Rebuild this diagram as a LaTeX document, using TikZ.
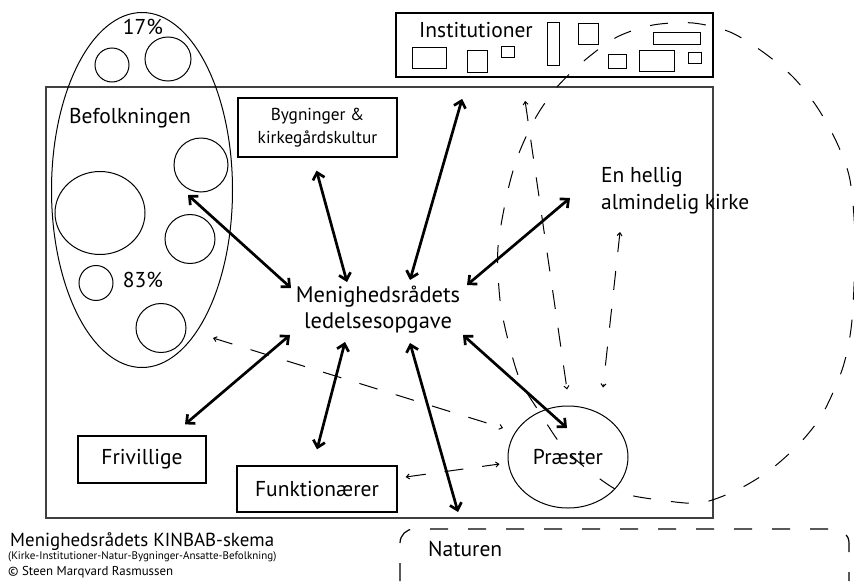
\documentclass[tikz,border=0pt]{standalone}
\usepackage{fontspec}
\setmainfont{PT Sans}
\usetikzlibrary{arrows.meta,shapes.geometric,calc,positioning}

\tikzset{
  biarrow/.style={line width=2.7pt,
    {Straight Barb[length=6.5pt,width=12pt]}-{Straight Barb[length=6.5pt,width=12pt]}},
  dasharrow/.style={line width=1pt, dash pattern=on 19pt off 19pt,
    {Straight Barb[length=3pt,width=5pt]}-{Straight Barb[length=3pt,width=5pt]}},
  circ/.style={draw, ellipse, line width=1pt, inner sep=0pt},
  box/.style={draw, line width=1.3pt, inner sep=0pt, align=center},
  txt/.style={inner sep=0pt, font=\fontsize{21.5}{25}\selectfont},
}

\begin{document}
\begin{tikzpicture}[x=1pt,y=-1pt]
        \useasboundingbox (0,0) rectangle (854,581);
        % ramme
        \draw[line width=1.4pt, draw=black!75] (46,87) rectangle (713,518);
        % befolkningen
        \node[circ, minimum width=181pt, minimum height=355pt] (befolk) at (142,190) {};
        \foreach \n/\x/\y/\w/\h in {c1/112/65/34/34, c2/168/59/46/44, c3/201/165/54/54,
          c4/100/213/90/83, c5/190/239/50/49, c6/96/283/34/35, c7/161/328/50/49} {
          \node[circ, minimum width=\w pt, minimum height=\h pt] (\n) at (\x,\y) {};
        }
        \node[txt] (pct17) at (143,27) {17\%};
        \node[txt] (beftxt) at (130,118) {Befolkningen};
        \node[txt] (pct83) at (143,280) {83\%};
        % institutioner
        \node[draw, line width=1.8pt, minimum width=317pt, minimum height=64pt, inner sep=0pt] (inst) at (554.5,45) {};
        \node[txt] (insttxt) at (476,30) {Institutioner};
        \foreach \xa/\ya/\xb/\yb in {412/47/446/68, 467/50/487/72, 501/46/514/57,
          547/22/559/65, 578/23/598/44, 608/54/626/68, 639/50/674/71,
          653/32/700/44, 688/52/701/63} {
          \draw[line width=1pt] (\xa,\ya) rectangle (\xb,\yb);
        }
        % kirken rundt om praesterne
        \draw[line width=1pt, dash pattern=on 18pt off 20pt] plot[smooth cycle, tension=0.5] coordinates {
          (508,190) (519,153) (536,117) (557,87) (585,60) (617,37) (653,25)
          (693,23) (730,32) (763,52) (793,77) (817,107) (837,143) (850,180)
          (855,240) (852,320) (843,367) (823,413) (800,443) (770,470) (737,490)
          (700,503) (660,500) (623,493) (592,473) (563,447) (540,413) (520,380)
          (508,340) (500,300) (498,247)};
        % naturen
        \draw[line width=1.2pt, dash pattern=on 18pt off 20pt, rounded corners=14pt]
          (400,581) -- (400,529) -- (849,529) -- (849,581);
        \node[txt, anchor=west] (natur) at (428,549) {Naturen};
        % noder
        \node[box, minimum width=159pt, minimum height=59pt, font=\fontsize{17.3}{23}\selectfont] (byg) at (317.5,127.5) {Bygninger \&\\kirkegårdskultur};
        \node[txt, align=center, font=\fontsize{22.5}{26}\selectfont] (menig) at (378,310) {Menighedsrådets\\ledelsesopgave};
        \node[txt, anchor=west, align=left, font=\fontsize{21.5}{27}\selectfont] (hellig) at (601,191) {En hellig\\almindelig kirke};
        \node[circ, minimum width=120pt, minimum height=102pt, font=\fontsize{21.5}{25}\selectfont] (praester) at (568,457) {Præster};
        \node[box, minimum width=128pt, minimum height=47pt, font=\fontsize{21.5}{25}\selectfont] (friv) at (142,459.5) {Frivillige};
        \node[box, minimum width=160pt, minimum height=46pt, font=\fontsize{21.5}{25}\selectfont] (funk) at (317,489) {Funktionærer};
        % pile fra menighedsraadet
        \draw[biarrow] ($(menig)+(-87,-22)$) -- ($(c3)+(-13,30)$);
        \draw[biarrow] ($(menig)+(-31,-28)$) -- ($(byg.south)+(-1,13)$);
        \draw[biarrow] ($(menig)+(32,-30)$) -- ($(inst.south west)+(67,21)$);
        \draw[biarrow] ($(menig)+(89,-25)$) -- ($(hellig.west)+(-31,7)$);
        \draw[biarrow] ($(menig)+(85,25)$) -- ($(praester)+(-1,-29)$);
        \draw[biarrow] ($(menig)+(32,33)$) -- ($(natur.west)+(30,-37)$);
        \draw[biarrow] ($(menig)+(-33,32)$) -- ($(funk.north)+(0,-16)$);
        \draw[biarrow] ($(menig)+(-88,25)$) -- ($(friv.north)+(43,-11)$);
        % stiplede pile til praesterne
        \draw[dasharrow] ($(befolk)+(71,148)$) -- ($(praester)+(-65,-29)$);
        \draw[dasharrow] ($(funk.east)+(8,-12)$) -- ($(praester.west)+(-8,7)$);
        \draw[dasharrow] ($(inst.south west)+(130,23)$) -- ($(praester.north)+(-1,-16)$);
        \draw[dasharrow] ($(hellig.west)+(19,41)$) -- ($(praester.north)+(35,-18)$);
        % tekst nederst
        \node[anchor=west, inner sep=0pt, font=\fontsize{18.9}{20}\selectfont] (titel) at (10,542) {Menighedsrådets KINBAB-skema};
        \node[anchor=west, inner sep=0pt, font=\fontsize{11}{12}\selectfont] (undertitel) at (8,557) {(Kirke-Institutioner-Natur-Bygninger-Ansatte-Befolkning)};
        \node[anchor=west, inner sep=0pt, font=\fontsize{12.9}{14}\selectfont] (ophav) at (8,572) {© Steen Marqvard Rasmussen};
\end{tikzpicture}
\end{document}
